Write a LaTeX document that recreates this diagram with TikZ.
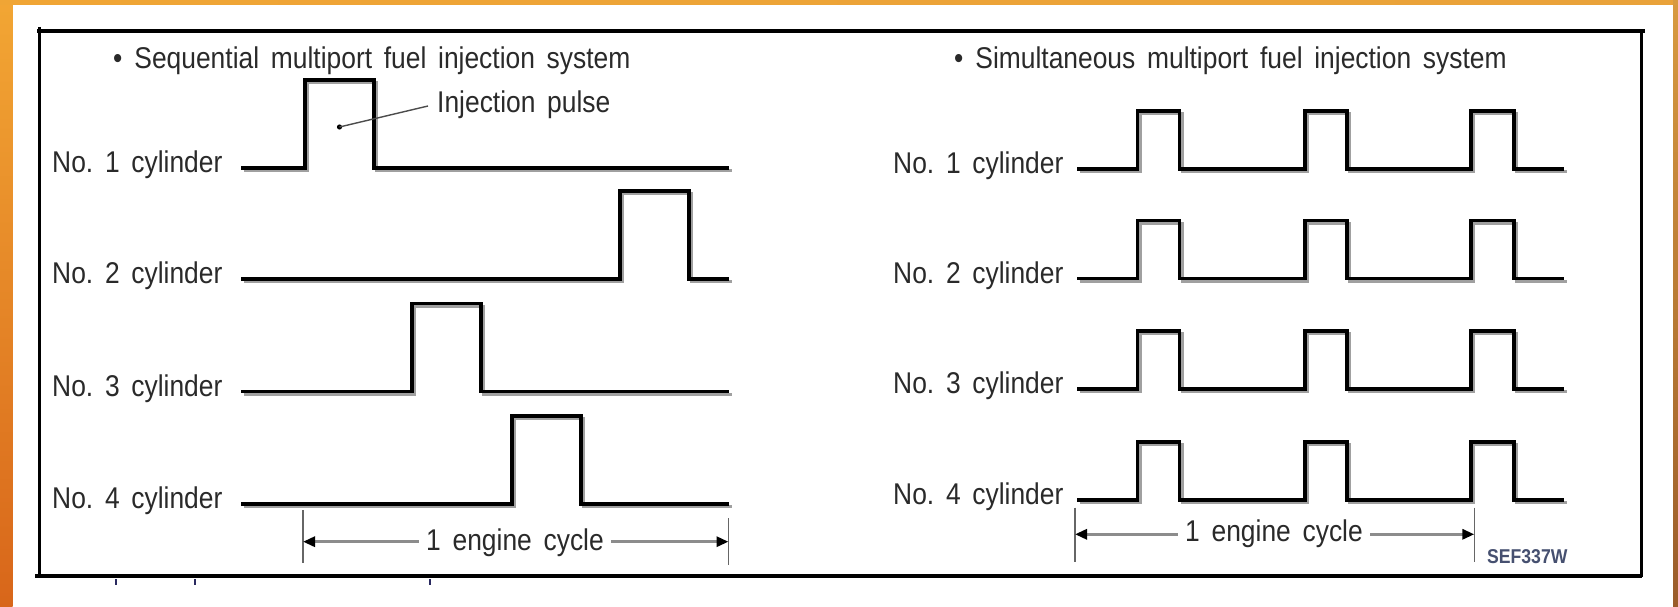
\documentclass[tikz,border=0pt]{standalone}
\usepackage{fontspec}
\setmainfont{Liberation Sans}[FakeStretch=0.88,WordSpace=1.6]
\usetikzlibrary{arrows.meta,calc}
\definecolor{orA}{HTML}{F2A634}
\definecolor{orB}{HTML}{D8661A}
\definecolor{orTopL}{HTML}{F0A535}
\definecolor{orTopR}{HTML}{E9A23A}
\definecolor{brA}{HTML}{D89A40}
\definecolor{brB}{HTML}{9A5C2A}
\definecolor{txt}{HTML}{2A2A2A}
\definecolor{shadowc}{HTML}{A0A0A0}
\definecolor{cycc}{HTML}{8C8C8C}
\definecolor{codec}{HTML}{465070}
\definecolor{speck}{HTML}{2A2A60}
\begin{document}
\begin{tikzpicture}[x=1pt,y=-1pt,
  lbl/.style={inner sep=0pt, font=\fontsize{30}{32}\selectfont\frenchspacing, text=txt, anchor=base west},
  cyclbl/.style={inner sep=0pt, font=\fontsize{30}{32}\selectfont\frenchspacing, text=txt, anchor=base},
  wave/.style={line width=3.2pt, black, line join=miter},
  waveshade/.style={line width=3pt, shadowc, line join=miter, shift={(2.5,2.5)}},
  tickline/.style={line width=1.6pt, black!60},
  cyc/.style={line width=3pt, cycc},
  tipstart/.style={{Triangle[length=12pt,width=10pt,color=black]}-},
  tipend/.style={-{Triangle[length=12pt,width=10pt,color=black]}},
  leader/.style={line width=1.4pt, black!70},
  speckle/.style={line width=2pt, speck}
]
\useasboundingbox (0,0) rectangle (1678,607);
% background and orange surround
\fill[white] (0,0) rectangle (1678,607);
\shade[top color=orA, bottom color=orB] (0,0) rectangle (12.5,607);
\shade[left color=orTopL, right color=orTopR] (0,0) rectangle (1678,4.8);
\shade[top color=brA, bottom color=brB] (1673,0) rectangle (1678,607);

% frame
\draw[line width=3.5pt] (37,31) -- (1645,31);
\draw[line width=3pt] (39,27) -- (39,577);
\draw[line width=2.8pt] (1641.5,31) -- (1641.5,577);
\draw[line width=4pt] (35,576) -- (1642,576);
% specks below the frame
\draw[speckle] (116,579) -- (116,585);
\draw[speckle] (195,579) -- (195,585);
\draw[speckle] (430,579) -- (430,585);

% titles
\node[lbl] (titleL) at (113,69) {\textbullet\hspace{12pt}Sequential multiport fuel injection system};
\node[lbl] (titleR) at (954,68.5) {\textbullet\hspace{12pt}Simultaneous multiport fuel injection system};

% left panel: sequential
\foreach \yy/\rr in {168/305, 279/620, 391.5/412, 504/512} {
  \draw[waveshade] (241,\yy) -- (\rr,\yy) -- (\rr,\yy-88) -- (\rr+69,\yy-88) -- (\rr+69,\yy) -- (729,\yy);
  \draw[wave] (241,\yy) -- (\rr,\yy) -- (\rr,\yy-88) -- (\rr+69,\yy-88) -- (\rr+69,\yy) -- (729,\yy);
}
\foreach \n/\yy in {1/172.5, 2/283.5, 3/396, 4/508.5} {
  \node[lbl] (SL\n) at (52,\yy) {No. \n\ cylinder};
}
% injection pulse leader
\coordinate (dot) at (339.5,127);
\coordinate (injend) at (428,106);
\node[lbl] (inj) at (437,113) {Injection pulse};
\fill[black] (dot) circle (2.6);
\draw[leader] (dot) -- (injend);

% right panel: simultaneous
\foreach \yy in {169, 278.5, 389, 500} {
  \draw[waveshade] (1077,\yy) -- (1137.5,\yy) -- (1137.5,\yy-58) -- (1179.5,\yy-58) -- (1179.5,\yy)
     -- (1305,\yy) -- (1305,\yy-58) -- (1347,\yy-58) -- (1347,\yy)
     -- (1471,\yy) -- (1471,\yy-58) -- (1514,\yy-58) -- (1514,\yy) -- (1564,\yy);
  \draw[wave] (1077,\yy) -- (1137.5,\yy) -- (1137.5,\yy-58) -- (1179.5,\yy-58) -- (1179.5,\yy)
     -- (1305,\yy) -- (1305,\yy-58) -- (1347,\yy-58) -- (1347,\yy)
     -- (1471,\yy) -- (1471,\yy-58) -- (1514,\yy-58) -- (1514,\yy) -- (1564,\yy);
}
\foreach \n/\yy in {1/173.5, 2/283, 3/393.5, 4/504.5} {
  \node[lbl] (SR\n) at (893,\yy) {No. \n\ cylinder};
}

% engine cycle, left
\draw[tickline] (303,510) -- (303,563);
\draw[tickline] (728.5,518) -- (728.5,565);
\coordinate (cL1) at (303,541.7);
\coordinate (cL2) at (728.5,541.7);
\node[cyclbl] (cycL) at (515,550) {1 engine cycle};
\draw[cyc, tipstart] (cL1) -- ($(cL1 -| cycL.west)+(-7,0)$);
\draw[cyc, tipend] ($(cL2 -| cycL.east)+(7,0)$) -- (cL2);

% engine cycle, right
\draw[tickline] (1075,507.7) -- (1075,561.7);
\draw[tickline] (1474.3,507.7) -- (1474.3,561.7);
\coordinate (cR1) at (1075,534.3);
\coordinate (cR2) at (1474.3,534.3);
\node[cyclbl] (cycR) at (1274,541.7) {1 engine cycle};
\draw[cyc, tipstart] (cR1) -- ($(cR1 -| cycR.west)+(-7,0)$);
\draw[cyc, tipend] ($(cR2 -| cycR.east)+(7,0)$) -- (cR2);

% figure code
\node[inner sep=0pt, anchor=base west, font=\fontsize{20}{20}\selectfont\bfseries, text=codec] (code) at (1487,563) {SEF337W};
\end{tikzpicture}
\end{document}
